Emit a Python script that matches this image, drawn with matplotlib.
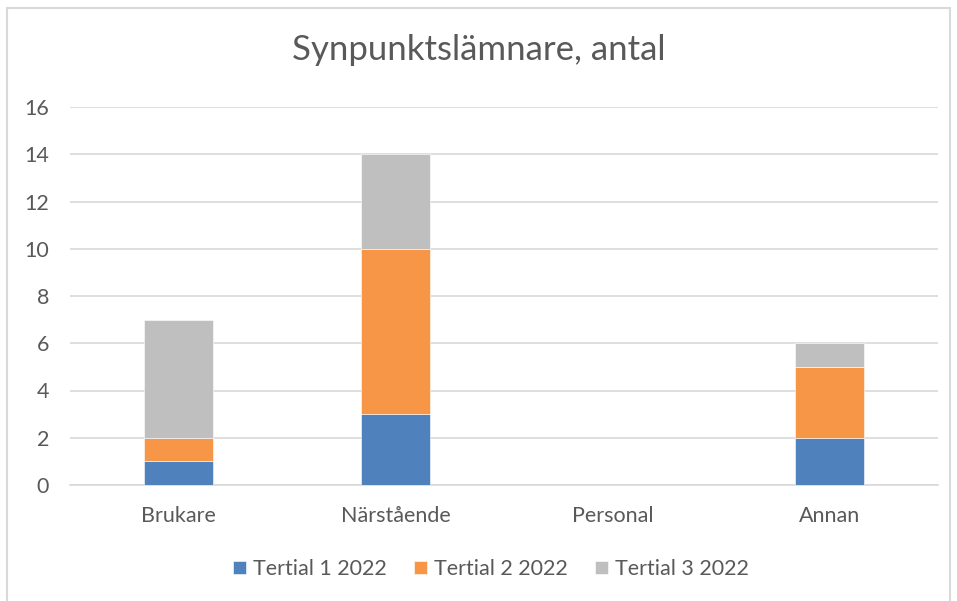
import matplotlib.pyplot as plt
from matplotlib.patches import Rectangle

categories = ["Brukare", "Närstående", "Personal", "Annan"]
tertial_1 = [1, 3, 0, 2]
tertial_2 = [1, 7, 0, 3]
tertial_3 = [5, 4, 0, 1]
series_labels = ["Tertial 1 2022", "Tertial 2 2022", "Tertial 3 2022"]
colors = ["#4F81BD", "#F79646", "#BFBFBF"]
yticks = [0, 2, 4, 6, 8, 10, 12, 14, 16]

text_color = "#595959"
plt.rcParams["font.family"] = ["Lato", "DejaVu Sans"]

fig = plt.figure(figsize=(9.57, 6.01), dpi=100)
ax = fig.add_axes([70 / 957, 1 - 485 / 601, 868 / 957, 378 / 601])

x = list(range(len(categories)))
bottom = [0] * len(categories)
for vals, label, color in zip([tertial_1, tertial_2, tertial_3], series_labels, colors):
    ax.bar(x, vals, width=0.315, bottom=bottom, color=color, label=label,
           edgecolor="white", linewidth=0.4, zorder=3)
    bottom = [b + v for b, v in zip(bottom, vals)]

ax.set_xlim(-0.5, 3.5)
ax.set_ylim(0, 16)
ax.set_yticks(yticks)
ax.set_xticks(x)
ax.set_xticklabels(categories)
ax.grid(axis="y", color="#D9D9D9", linewidth=1.2, zorder=0)
ax.tick_params(length=0, labelsize=15.5, colors=text_color)
ax.tick_params(axis="y", pad=15)
ax.tick_params(axis="x", pad=15)
for side in ["top", "right", "left"]:
    ax.spines[side].set_visible(False)
ax.spines["bottom"].set_color("#D9D9D9")
ax.spines["bottom"].set_linewidth(1.2)

fig.text(0.5, 1 - 50 / 601, "Synpunktslämnare, antal", ha="center", va="center",
         fontsize=25, color=text_color)

fig.legend(loc="center", bbox_to_anchor=(491 / 957, 1 - 569 / 601), ncol=3, frameon=False,
           fontsize=15.5, labelcolor=text_color, handlelength=0.6, handleheight=0.6,
           handletextpad=0.3, columnspacing=1.3)

fig.patches.append(Rectangle((7 / 957, -0.01), 943 / 957, 1 - 8 / 601 + 0.01,
                             transform=fig.transFigure, fill=False,
                             edgecolor="#D9D9D9", linewidth=1.5))

fig.savefig("out.png", dpi=100)
